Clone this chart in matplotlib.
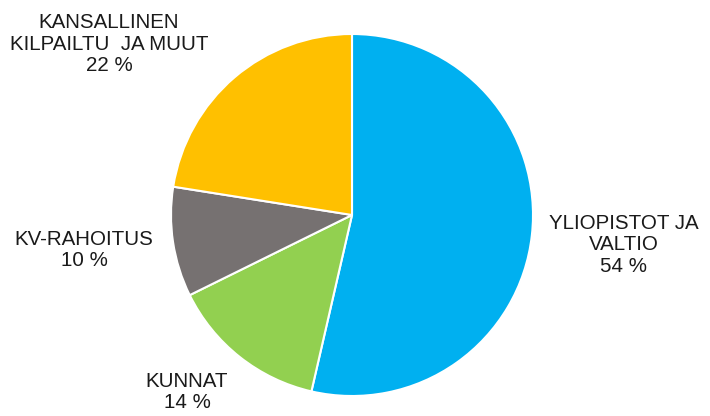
import matplotlib.pyplot as plt

plt.rcParams['font.family'] = ['Liberation Sans', 'DejaVu Sans']

# rahoituslähteet
labels = ['YLIOPISTOT JA\nVALTIO', 'KUNNAT', 'KV-RAHOITUS', 'KANSALLINEN\nKILPAILTU  JA MUUT']
shares = [53.6, 14.1, 9.8, 22.5]      # arvioitu kuvasta
pct_labels = ['54 %', '14 %', '10 %', '22 %']
colors = ['#00B0F0', '#92D050', '#767171', '#FFC000']

# tekstien paikat pikseleinä (x, y ylhäältä)
label_pos = [(624, 245), (187, 392), (84, 250), (109, 44)]

fig = plt.figure(figsize=(7.1, 4.16), dpi=100)
ax = fig.add_axes([0, 0, 1, 1])

ax.pie(shares, colors=colors, startangle=90, counterclock=False,
       center=(352, 416 - 215), radius=181,
       wedgeprops=dict(edgecolor='white', linewidth=1.5))

for lab, pct, (x, y) in zip(labels, pct_labels, label_pos):
    ax.text(x, 416 - y, lab + '\n' + pct, ha='center', va='center',
            multialignment='center', fontsize=14.8, color='#1a1a1a',
            linespacing=1.19)

ax.set_xlim(0, 710)
ax.set_ylim(0, 416)
ax.set_aspect('equal')
ax.axis('off')

fig.savefig('out.png', dpi=100)
